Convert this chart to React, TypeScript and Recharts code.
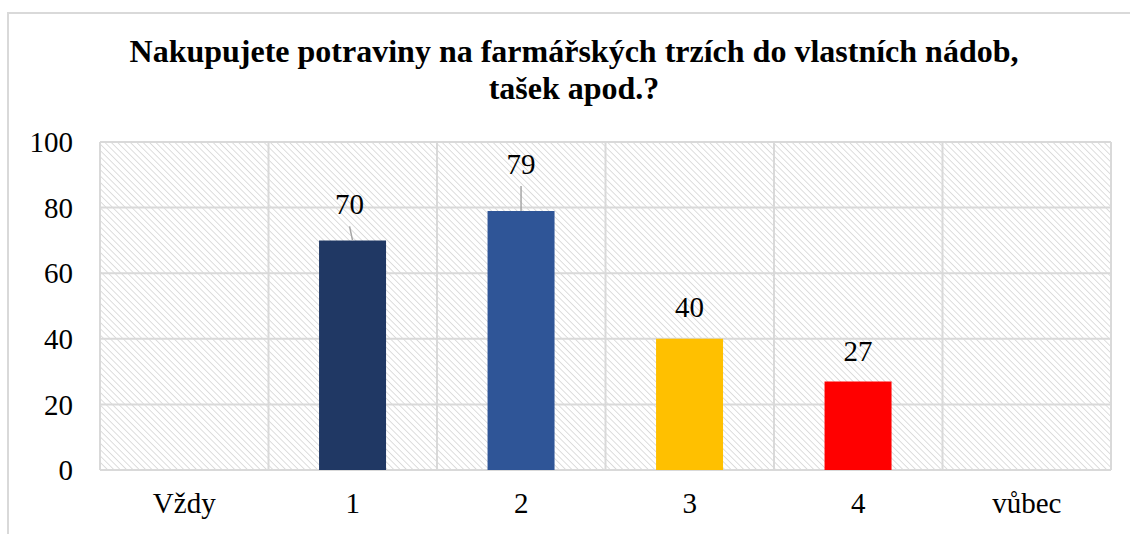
import { BarChart, Bar, XAxis, YAxis, CartesianGrid, LabelList, Cell } from 'recharts';

const categories = ['Vždy', '1', '2', '3', '4', 'vůbec'];
const answers = [null, 70, 79, 40, 27, null];
const barColors = ['#203864', '#203864', '#2F5597', '#FFC000', '#FF0000', '#FF0000'];
const yTicks = [0, 20, 40, 60, 80, 100];

const titleLines = ['Nakupujete potraviny na farmářských trzích do vlastních nádob,', 'tašek apod.?'];

const data = categories.map((c, i) => ({ name: c, value: answers[i] }));

// label placement above each bar (by category), and which ones get a leader line
const LABEL_RAISE = [0, 26, 37, 22, 20, 0];
const LABEL_SHIFT = [0, -3, 0, 0, 0, 0];
const LEADER = [false, true, true, false, false, false];

const FONT = '"Liberation Serif", "Times New Roman", serif';
const GRID = '#d9d9d9';

function BarLabel(props: any) {
  const { x, y, width, value } = props;
  const i = categories.indexOf(value);
  const v = answers[i];
  if (i < 0 || v == null) return null;
  const cx = x + width / 2;
  const lx = cx + LABEL_SHIFT[i];
  const base = y - LABEL_RAISE[i];
  return (
    <g>
      {LEADER[i] && <line x1={lx} y1={base + 12} x2={cx} y2={y} stroke="#a6a6a6" strokeWidth={1.5} />}
      <text x={lx} y={base} textAnchor="middle" fontFamily={FONT} fontSize={29} fill="#000">
        {v}
      </text>
    </g>
  );
}

export default function App() {
  return (
    <div style={{ position: 'absolute', left: 0, top: 0, width: 1130, height: 534, overflow: 'hidden', background: '#fff' }}>
      <div
        style={{
          position: 'absolute', left: 7, top: 12, width: 1200, height: 600,
          borderLeft: `2px solid ${GRID}`, borderTop: `2px solid ${GRID}`,
        }}
      />
      <div
        style={{
          position: 'absolute', left: 0, top: 33, width: 1148, textAlign: 'center',
          fontFamily: FONT, fontWeight: 'bold', fontSize: 32, lineHeight: '37px', color: '#000',
        }}
      >
        {titleLines.map((t) => (
          <div key={t}>{t}</div>
        ))}
      </div>
      <div style={{ position: 'absolute', left: 0, top: 0 }}>
        <BarChart width={1130} height={534} data={data} margin={{ top: 142, right: 19, left: 0, bottom: 0 }} barCategoryGap="30%">
          <defs>
            <pattern id="hatch" patternUnits="userSpaceOnUse" width={4.5} height={4.5} patternTransform="rotate(-45)">
              <line x1={0} y1={0} x2={0} y2={4.5} stroke="#dadada" strokeWidth={1.8} />
            </pattern>
          </defs>
          <CartesianGrid
            fill="url(#hatch)"
            stroke={GRID}
            strokeWidth={2}
            verticalCoordinatesGenerator={({ offset }: any) =>
              categories.map((_, i) => offset.left + (i * offset.width) / categories.length).concat(offset.left + offset.width)
            }
          />
          <XAxis
            dataKey="name"
            height={64}
            axisLine={false}
            tickLine={false}
            tickSize={0}
            tickMargin={22}
            tick={{ fontFamily: FONT, fontSize: 29, fill: '#000' }}
            interval={0}
          />
          <YAxis
            width={100}
            domain={[0, 100]}
            ticks={yTicks}
            axisLine={false}
            tickLine={false}
            tickSize={0}
            tickMargin={27}
            tick={{ fontFamily: FONT, fontSize: 29, fill: '#000' }}
          />
          <Bar dataKey="value" isAnimationActive={false}>
            {data.map((d, i) => (
              <Cell key={d.name} fill={barColors[i]} />
            ))}
            <LabelList dataKey="name" content={BarLabel} />
          </Bar>
        </BarChart>
      </div>
    </div>
  );
}
